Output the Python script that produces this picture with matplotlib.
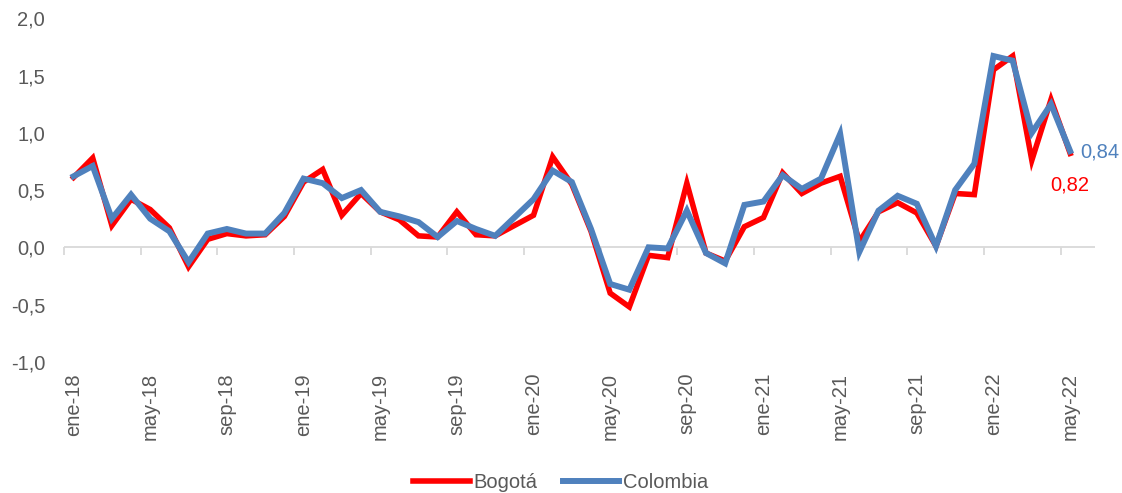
import matplotlib
matplotlib.use("Agg")
import matplotlib.pyplot as plt
import numpy as np

plt.rcParams['font.family'] = ['Liberation Sans', 'DejaVu Sans']

months = ['ene', 'feb', 'mar', 'abr', 'may', 'jun', 'jul', 'ago', 'sep', 'oct', 'nov', 'dic']
years = ['18', '19', '20', '21', '22']
categories = [f"{m}-{y}" for y in years for m in months][:53]

bogota = [0.61, 0.78, 0.19, 0.42, 0.33, 0.17, -0.17, 0.07, 0.12, 0.10, 0.11, 0.27,
          0.57, 0.68, 0.28, 0.47, 0.31, 0.24, 0.10, 0.09, 0.31, 0.11, 0.10, 0.19,
          0.28, 0.79, 0.55, 0.14, -0.40, -0.52, -0.07, -0.09, 0.56, -0.05, -0.12, 0.18,
          0.26, 0.65, 0.47, 0.56, 0.62, 0.05, 0.31, 0.39, 0.30, 0.01, 0.47, 0.46,
          1.55, 1.67, 0.76, 1.29, 0.82]
colombia = [0.62, 0.71, 0.25, 0.46, 0.25, 0.14, -0.13, 0.12, 0.16, 0.12, 0.12, 0.30,
            0.60, 0.56, 0.43, 0.50, 0.31, 0.27, 0.22, 0.09, 0.23, 0.16, 0.10, 0.26,
            0.42, 0.67, 0.57, 0.16, -0.32, -0.37, 0.00, -0.01, 0.32, -0.05, -0.14, 0.37,
            0.40, 0.63, 0.51, 0.60, 0.99, -0.04, 0.32, 0.45, 0.38, 0.01, 0.50, 0.73,
            1.67, 1.63, 1.00, 1.25, 0.84]

yticks = [-1.0, -0.5, 0.0, 0.5, 1.0, 1.5, 2.0]

RED = '#FF0000'
BLUE = '#4F81BD'
GRAY = '#595959'
LINE = '#D9D9D9'
FS = 14.5

fig = plt.figure(figsize=(11.22, 4.93), dpi=100)
ax = fig.add_axes([0.057, 0.266, 0.919, 0.697])

x = np.arange(len(categories))
ax.plot(x, bogota, color=RED, lw=4.0, solid_joinstyle='miter', label='Bogotá', zorder=3)
ax.plot(x, colombia, color=BLUE, lw=4.3, solid_joinstyle='miter', label='Colombia', zorder=4)

ax.set_xlim(-0.5, 53.3)
ax.set_ylim(-1.0, 2.0)

for s in ax.spines.values():
    s.set_visible(False)

ax.axhline(0, color=LINE, lw=1.3, zorder=1)

ax.set_yticks(yticks)
ax.set_yticklabels([f"{v:.1f}".replace('.', ',') for v in yticks])
ax.tick_params(axis='y', length=0, pad=13.5, labelsize=FS, labelcolor=GRAY)

lab_idx = list(range(0, len(categories), 4))
ax.set_xticks(lab_idx)
ax.set_xticklabels([categories[i] for i in lab_idx], rotation=90)
ax.tick_params(axis='x', length=0, pad=8, labelsize=FS, labelcolor=GRAY)

sec = ax.secondary_xaxis(1/3)
sec.spines['bottom'].set_visible(False)
sec.set_xticks([i - 0.5 for i in lab_idx])
sec.set_xticklabels([])
sec.tick_params(axis='x', length=6, width=1.3, color=LINE, direction='out')

ax.annotate(f"{colombia[-1]:.2f}".replace('.', ','), xy=(x[-1], colombia[-1]),
            xytext=(7, -1), textcoords='offset points', color=BLUE, fontsize=FS,
            va='center', ha='left')
ax.annotate(f"{bogota[-1]:.2f}".replace('.', ','), xy=(x[-1], bogota[-1]),
            xytext=(-14, -23), textcoords='offset points', color=RED, fontsize=FS,
            va='center', ha='left')

fig.legend(loc='center', bbox_to_anchor=(0.5, 0.022), ncol=2, frameon=False,
           fontsize=FS, labelcolor=GRAY, handlelength=2.8, handletextpad=0.2,
           columnspacing=1.25)

fig.savefig('out.png', dpi=100)
